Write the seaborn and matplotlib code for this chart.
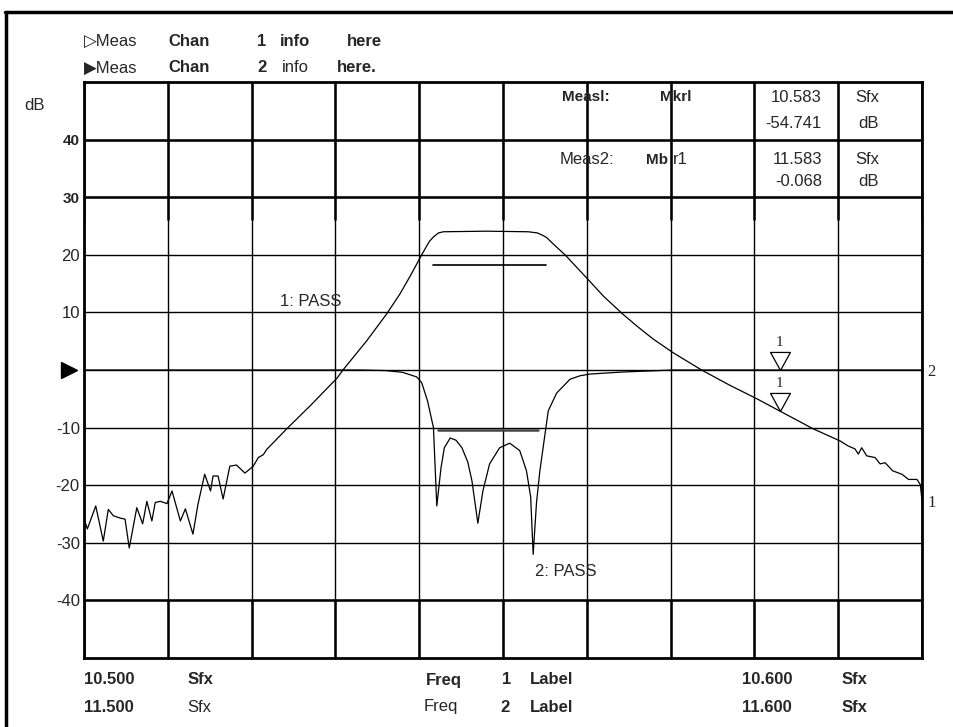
import seaborn as sns
import matplotlib.pyplot as plt
from matplotlib.lines import Line2D

# sweep of channel 1 in Sfx (channel 2 runs 11.500 - 11.600 on the same grid)
f_start = 10.500
f_stop = 10.600

# trace 1 : transmission
trace1_freq = [10.5000, 10.5004, 10.5014, 10.5023, 10.5029, 10.5035, 10.5043, 10.5049, 10.5054, 10.5063,
               10.5070, 10.5075, 10.5081, 10.5085, 10.5091, 10.5099, 10.5105, 10.5115, 10.5121, 10.5130,
               10.5136, 10.5144, 10.5151, 10.5154, 10.5160, 10.5166, 10.5174, 10.5182, 10.5192, 10.5202,
               10.5208, 10.5214, 10.5218, 10.5242, 10.5270, 10.5302, 10.5309, 10.5337, 10.5361, 10.5377,
               10.5390, 10.5403, 10.5412, 10.5417, 10.5423, 10.5429, 10.5480, 10.5530, 10.5541, 10.5547,
               10.5552, 10.5562, 10.5574, 10.5601, 10.5620, 10.5643, 10.5660, 10.5679, 10.5703, 10.5737,
               10.5770, 10.5803, 10.5830, 10.5870, 10.5902, 10.5912, 10.5920, 10.5924, 10.5928, 10.5934,
               10.5944, 10.5950, 10.5956, 10.5965, 10.5976, 10.5984, 10.5994, 10.5998, 10.6000]
trace1_db = [-25.7, -27.6, -23.6, -29.7, -24.2, -25.3, -25.7, -25.9, -30.9, -23.9,
             -26.7, -22.8, -26.2, -23.0, -22.8, -23.2, -21.0, -26.2, -24.1, -28.5,
             -23.3, -18.1, -21.0, -18.4, -18.4, -22.4, -16.7, -16.5, -17.9, -16.7,
             -15.2, -14.7, -13.8, -10.2, -6.2, -1.4, 0.0, 5.0, 9.7, 13.2,
             16.5, 20.0, 22.3, 23.1, 23.8, 24.0, 24.1, 24.0, 23.8, 23.4,
             23.0, 21.6, 20.0, 15.8, 12.8, 9.7, 7.6, 5.4, 3.0, 0.0,
             -2.6, -5.0, -7.1, -10.2, -12.3, -13.2, -13.7, -14.6, -13.5, -14.9,
             -15.2, -16.3, -16.1, -17.5, -18.1, -19.0, -19.0, -19.9, -22.7]

# trace 2 : reflection
trace2_freq = [10.5000, 10.5330, 10.5360, 10.5380, 10.5397, 10.5403, 10.5410, 10.5417, 10.5421, 10.5426,
               10.5430, 10.5437, 10.5444, 10.5451, 10.5458, 10.5463, 10.5470, 10.5476, 10.5484, 10.5496,
               10.5508, 10.5520, 10.5528, 10.5533, 10.5536, 10.5540, 10.5544, 10.5554, 10.5564, 10.5580,
               10.5592, 10.5604, 10.5643, 10.5703, 10.6000]
trace2_db = [0.0, 0.0, -0.1, -0.4, -1.2, -2.2, -5.4, -10.0, -23.6, -17.0,
             -13.5, -11.8, -12.2, -13.5, -16.0, -19.3, -26.6, -21.0, -16.3, -13.5,
             -12.7, -14.0, -17.5, -22.0, -32.0, -23.0, -17.5, -7.1, -4.0, -1.6,
             -1.0, -0.7, -0.35, 0.0, 0.0]

# pass/fail limit lines
limit1_freq = [10.5417, 10.5551]
limit1_db = [18.3, 18.3]
limit2_freq = [10.5422, 10.5542]
limit2_db = [-10.5, -10.5]

# marker 1 on both channels
marker_freq = 10.583
marker_db = [0.0, -7.1]

y_ticks = [-40, -30, -20, -10, 0, 10, 20, 30, 40]
y_labels = ['-40', '-30', '-20', '-10', '', '10', '20', '30', '40']

sns.set_style("white")
plt.rcParams['font.family'] = ['Liberation Sans', 'DejaVu Sans']

W, H = 954, 727
fig = plt.figure(figsize=(W / 100, H / 100), dpi=100)
ax = fig.add_axes([84 / W, 1 - 658 / H, 838 / W, 576 / H])

sns.lineplot(x=trace1_freq, y=trace1_db, ax=ax, color='k', lw=0.9, estimator=None, sort=False)
sns.lineplot(x=trace2_freq, y=trace2_db, ax=ax, color='k', lw=0.9, estimator=None, sort=False)
sns.lineplot(x=limit1_freq, y=limit1_db, ax=ax, color='k', lw=1.2, estimator=None)
sns.lineplot(x=limit2_freq, y=limit2_db, ax=ax, color='#444444', lw=1.8, estimator=None)

ax.set_xlim(f_start, f_stop)
ax.set_ylim(-50, 50)
x_grid = [f_start + i * (f_stop - f_start) / 10 for i in range(11)]
ax.set_xticks(x_grid)
ax.set_xticklabels([])
ax.set_yticks(y_ticks)
ax.set_yticklabels(y_labels, fontsize=12)
for lab in ax.get_yticklabels():
    if lab.get_text() in ('40', '30'):
        lab.set_fontweight('bold')
        lab.set_fontsize(11)
ax.tick_params(length=0, pad=3)
ax.grid(True, color='k', lw=1.0)
# the screen draws the top and bottom bands of the graticule heavier
ax.vlines(x_grid, 26, 50, color='k', lw=1.8)
ax.vlines(x_grid, -50, -40, color='k', lw=1.8)
ax.axhline(40, color='k', lw=1.8)
ax.axhline(30, color='k', lw=1.8)
ax.axhline(-40, color='k', lw=1.8)
for sp in ax.spines.values():
    sp.set_visible(True)
    sp.set_color('k')
    sp.set_linewidth(2)

# reference level arrow
ax.plot(-0.018, 0, marker='>', color='k', ms=11, transform=ax.get_yaxis_transform(), clip_on=False)

# marker triangles with tip on the trace
tri = [(-0.55, 1), (0.55, 1), (0, 0), (-0.55, 1)]
for mdb in marker_db:
    ax.plot([marker_freq], [mdb], marker=tri, ms=26, mfc='white', mec='k', mew=0.9, ls='none')
    ax.annotate('1', (marker_freq, mdb), xytext=(0, 20), textcoords='offset points',
                ha='center', va='center', fontsize=11, family='Liberation Serif')


def put(px, py, s, bold=False, size=12, ha='left', **kw):
    fig.text(px / W, 1 - py / H, s, fontsize=size, fontweight='bold' if bold else 'normal',
             ha=ha, va='center', **kw)


# header lines
put(84, 41, '▷Meas')
for word, px in [('Chan', 168), ('1', 257), ('info', 280), ('here', 347)]:
    put(px, 41, word, bold=True)
put(84, 68, '▶Meas')
for word, px, b in [('Chan', 168, True), ('2', 257, True), ('info', 282, False), ('here.', 337, True)]:
    put(px, 68, word, bold=b)

put(24, 105, 'dB')

# marker readout
put(562, 97, 'Measl:', bold=True, size=11)
put(660, 97, 'Mkrl', bold=True, size=11)
put(822, 97, '10.583', ha='right')
put(855, 97, 'Sfx')
put(822, 123, '-54.741', ha='right')
put(858, 123, 'dB')
put(560, 160, 'Meas2:')
put(646, 160, 'Mb', bold=True, size=11)
put(673, 160, 'r1')
put(822, 160, '11.583', ha='right')
put(855, 160, 'Sfx')
put(822, 182, '-0.068', ha='right')
put(858, 182, 'dB')

# trace labels
put(280, 302, '1: PASS')
put(535, 572, '2: PASS')
put(927, 372, '2', family='Liberation Serif')
put(927, 503, '1', family='Liberation Serif')

# frequency annotation below the graticule
for word, px, b in [('10.500', 84, True), ('Sfx', 188, True), ('Freq', 426, True), ('1', 502, True),
                    ('Label', 530, True), ('10.600', 742, True), ('Sfx', 842, True)]:
    put(px, 680, word, bold=b)
for word, px, b in [('11.500', 84, True), ('Sfx', 187, False), ('Freq', 424, False), ('2', 500, True),
                    ('Label', 530, True), ('11.600', 742, True), ('Sfx', 842, True)]:
    put(px, 707, word, bold=b)

# outer border of the printout
fig.add_artist(Line2D([5 / W, 1], [1 - 12 / H, 1 - 12 / H], color='k', lw=2.5))
fig.add_artist(Line2D([6 / W, 6 / W], [0, 1 - 12 / H], color='k', lw=2.5))

fig.savefig('out.png', dpi=100)
